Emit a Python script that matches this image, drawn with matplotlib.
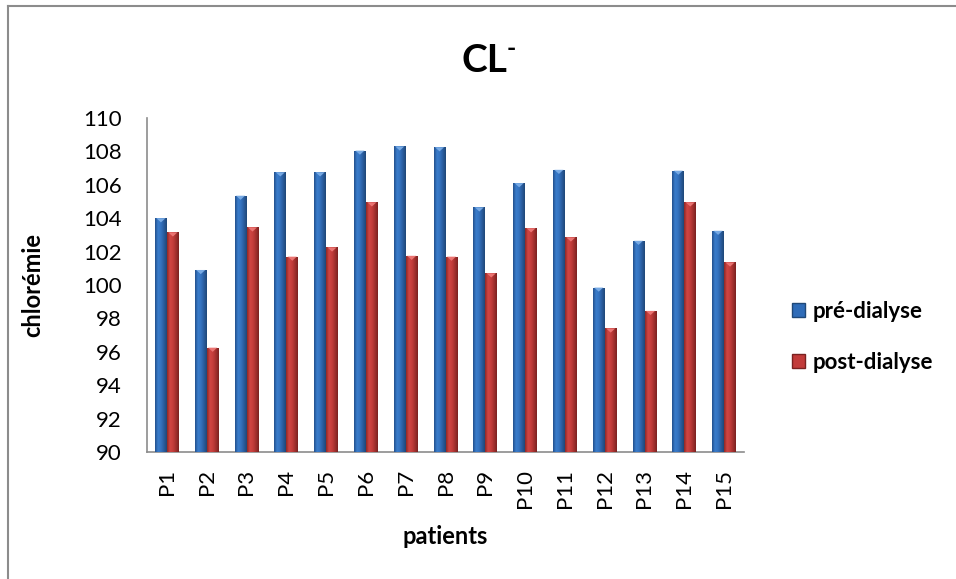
#=======================================================================
# CL- chart: pre / post dialysis chloremia per patient
#=======================================================================
import numpy as np
import matplotlib.pyplot as plt
from matplotlib.colors import LinearSegmentedColormap
from matplotlib.patches import Patch, Polygon
from matplotlib.lines import Line2D

# DATA -----------------------------------------------------------------
patients = ["P1", "P2", "P3", "P4", "P5", "P6", "P7", "P8", "P9", "P10",
            "P11", "P12", "P13", "P14", "P15"]
pre_dialyse = [104.0, 100.9, 105.35, 106.75, 106.75, 108.05, 108.3, 108.25,
               104.65, 106.1, 106.9, 99.85, 102.65, 106.85, 103.25]
post_dialyse = [103.15, 96.25, 103.45, 101.7, 102.25, 104.95, 101.75, 101.7,
                100.7, 103.4, 102.85, 97.4, 98.45, 104.95, 101.35]
y_ticks = [90, 92, 94, 96, 98, 100, 102, 104, 106, 108, 110]

# STYLE ----------------------------------------------------------------
plt.rcParams['font.family'] = ['Lato', 'DejaVu Sans']
BLUE = "#2f6cb8"
RED = "#c23b3a"
blue_cm = LinearSegmentedColormap.from_list(
    "b", ["#23508c", "#3a7ccb", "#3473c0", "#2a5c9e", "#1f4878"])
red_cm = LinearSegmentedColormap.from_list(
    "r", ["#8f2826", "#d04543", "#c43d3b", "#a3302e", "#7a2120"])
top_blue = "#7fb0e8"
top_red = "#f07a78"

W, H = 956, 579
fig = plt.figure(figsize=(W / 100, H / 100), dpi=100)
ax = fig.add_axes([147 / W, (H - 452) / H, (744 - 147) / W, (452 - 118) / H])

x = np.arange(len(patients))
bw = 0.30
bars_pre = ax.bar(x - bw / 2, np.array(pre_dialyse) - 90, bw, bottom=90,
                  color=BLUE, linewidth=0, zorder=2)
bars_post = ax.bar(x + bw / 2, np.array(post_dialyse) - 90, bw, bottom=90,
                   color=RED, linewidth=0, zorder=2)

# gradient shading + small bevel triangle on each bar
grad = np.linspace(0, 1, 64).reshape(1, -1)
for bars, cm, tc in [(bars_pre, blue_cm, top_blue), (bars_post, red_cm, top_red)]:
    for b in bars:
        x0, y0 = b.get_x(), b.get_y()
        w, h = b.get_width(), b.get_height()
        im = ax.imshow(grad, cmap=cm, aspect='auto', extent=[x0, x0 + w, y0, y0 + h],
                       zorder=3, interpolation='bilinear')
        im.set_clip_path(b)
        th = 0.25
        tri = Polygon([[x0 + w * 0.12, y0 + h], [x0 + w * 0.88, y0 + h],
                       [x0 + w / 2, y0 + h - th]], closed=True,
                      facecolor=tc, edgecolor='none', zorder=4, alpha=0.9)
        ax.add_patch(tri)

ax.set_xlim(-0.5, len(patients) - 0.5)
ax.set_ylim(90, 110)
ax.set_yticks(y_ticks)
ax.set_xticks(x)
ax.set_xticklabels(patients, rotation=90, fontsize=16)
ax.tick_params(axis='y', labelsize=16, length=0, pad=18)
ax.tick_params(axis='x', length=0, pad=12)
for s in ['top', 'right']:
    ax.spines[s].set_visible(False)
for s in ['left', 'bottom']:
    ax.spines[s].set_color('#8c8c8c')
    ax.spines[s].set_linewidth(1.2)

# TEXT -----------------------------------------------------------------
fig.text(484 / W, 1 - 60 / H, "CL", fontsize=28, fontweight='bold',
         ha='center', va='center')
fig.text(511 / W, 1 - 49 / H, "-", fontsize=18, fontweight='bold',
         ha='center', va='center')
fig.text(445 / W, 1 - 537 / H, "patients", fontsize=17, fontweight='bold',
         ha='center', va='center')
fig.text(33 / W, 1 - 285 / H, "chlorémie", fontsize=17, fontweight='bold',
         ha='center', va='center', rotation=90)

handles = [Patch(facecolor=BLUE, edgecolor='#1f4878'),
           Patch(facecolor=RED, edgecolor='#7a2120')]
fig.legend(handles, ["pré-dialyse", "post-dialyse"], loc='center left',
           bbox_to_anchor=(772 / W, 1 - 337 / H), frameon=False,
           prop={'size': 16, 'weight': 'bold'}, handlelength=0.6, handleheight=0.6,
           handletextpad=0.35, labelspacing=1.35)

# chart border (top and left edges)
fig.add_artist(Line2D([8 / W, 8 / W], [0, 1 - 6 / H], transform=fig.transFigure,
                      color='#8c8c8c', linewidth=1.5))
fig.add_artist(Line2D([8 / W, 1], [1 - 6 / H, 1 - 6 / H], transform=fig.transFigure,
                      color='#8c8c8c', linewidth=1.5))

fig.savefig("out.png", dpi=100)
